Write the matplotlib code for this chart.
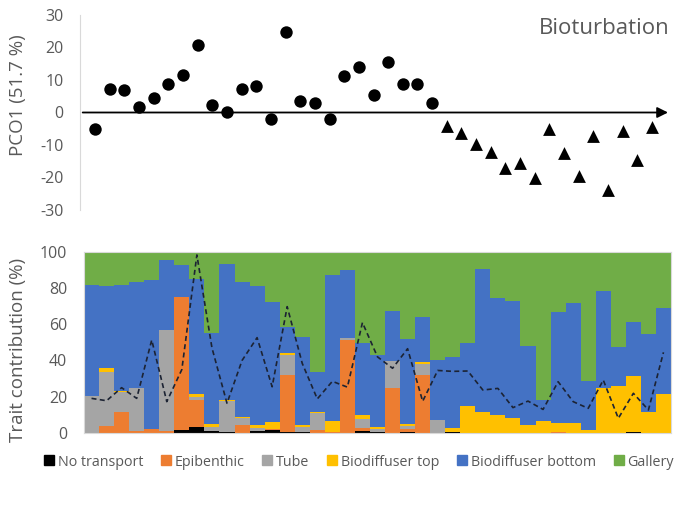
import matplotlib
matplotlib.use("Agg")
import matplotlib.pyplot as plt
import numpy as np

plt.rcParams['font.family'] = ['Open Sans', 'DejaVu Sans']
plt.rcParams['axes.unicode_minus'] = False

# ---- Top panel data: PCO1 scores ----
pco1_circles = [-5.1, 7.2, 6.9, 1.7, 4.5, 8.7, 11.6, 20.8, 2.4, 0.0, 7.2, 8.0,
                -2.1, 24.7, 3.4, 3.0, -2.1, 11.3, 14.1, 5.4, 15.5, 8.7, 8.9, 2.9]
pco1_triangles = [-4.3, -6.2, -9.6, -12.2, -17.1, -15.4, -20.2, -5.0, -12.5,
                  -19.6, -7.2, -23.8, -5.6, -14.6, -4.6]

# ---- Bottom panel data: trait contributions (%) per sample ----
no_transport = [0, 0, 0, 0, 0, 0, 1.7, 3.5, 1.1, 0.6, 0, 1.1, 1.5, 0.5, 0.7, 0, 0, 0, 0.9,
                0.6, 0, 0.5, 0, 0, 0.4, 0, 0, 0, 0, 0, 0, 0, 0, 0, 0, 0, 0.8, 0, 0]
epibenthic = [0, 3.9, 11.8, 1.3, 2.2, 1.3, 73.5, 14.7, 0, 0, 4.2, 0, 0.5, 31.5, 0, 1.7, 0.7,
              51.3, 1.6, 0, 24.7, 1.7, 32.0, 0, 0, 0, 0, 0, 0, 0, 0, 0.6, 0, 0, 0, 0, 0, 0, 0]
tube = [20.6, 29.9, 11.0, 23.7, 0, 55.5, 0, 1.8, 2.4, 17.0, 3.9, 1.5, 0, 11.0, 2.5, 9.2, 0,
        1.1, 5.4, 1.4, 15.0, 1.4, 6.3, 7.2, 0, 0, 0, 0, 0, 0, 0, 0, 0, 0, 0, 0, 0, 0, 0]
biodiff_top = [0, 2.2, 0.5, 0, 0, 0, 0, 1.5, 1.5, 0.6, 0.7, 2.0, 3.8, 1.0, 1.3, 0.6, 6.0,
               0, 1.8, 1.1, 0, 1.6, 0.8, 0, 2.3, 14.9, 11.8, 9.7, 8.3, 4.2, 6.8, 5.1,
               5.7, 1.6, 25.0, 26.1, 30.4, 11.4, 21.3]
biodiff_bottom = [61.0, 44.9, 58.5, 58.3, 82.2, 38.6, 17.4, 63.2, 50.3, 75.0, 74.3, 76.4,
                  66.2, 14.7, 48.5, 22.4, 80.3, 37.3, 39.7, 39.7, 27.6, 46.8, 25.1, 33.1,
                  39.4, 34.5, 78.6, 64.6, 64.5, 43.8, 11.4, 61.2, 65.8, 27.3, 53.5, 21.5,
                  29.8, 43.0, 47.5]
gallery = [18.4, 19.1, 18.2, 16.7, 15.6, 4.6, 7.4, 15.3, 44.7, 6.8, 16.9, 19.0, 28.0, 41.3,
           47.0, 66.1, 13.0, 10.3, 50.6, 57.2, 32.7, 48.0, 35.8, 59.7, 57.9, 50.6, 9.6,
           25.7, 27.2, 52.0, 81.8, 33.1, 28.5, 71.1, 21.5, 52.4, 39.0, 45.6, 31.2]
bioturbation_line = [19.1, 17.8, 25.0, 19.1, 51.3, 17.3, 35.0, 98.2, 47.0, 16.4, 40.0,
                     52.6, 25.5, 69.7, 38.4, 18.8, 28.5, 25.3, 60.9, 42.0, 35.7, 46.5,
                     17.5, 34.5, 34.0, 34.2, 23.7, 24.6, 14.0, 17.6, 13.0, 28.3, 17.3,
                     13.6, 29.2, 8.1, 21.9, 12.7, 44.5]

categories = ["No transport", "Epibenthic", "Tube", "Biodiffuser top",
              "Biodiffuser bottom", "Gallery"]
colors = ["#000000", "#ED7D31", "#A5A5A5", "#FFC000", "#4472C4", "#70AD47"]
series = [no_transport, epibenthic, tube, biodiff_top, biodiff_bottom, gallery]

grey_txt = "#595959"
W, H = 691, 505
fig = plt.figure(figsize=(W / 100, H / 100), dpi=100)

# ---------------- Top panel ----------------
n_c = len(pco1_circles)
n_t = len(pco1_triangles)
xc = np.arange(n_c)
xt = np.arange(n_c, n_c + n_t)
ax1 = fig.add_axes([80 / W, 1 - 210 / H, (668 - 80) / W, 195 / H])
ax1.scatter(xc, pco1_circles, s=80, marker='o', color='black', zorder=3, linewidths=0)
ax1.scatter(xt, pco1_triangles, s=85, marker='^', color='black', zorder=3, linewidths=0)
ax1.set_xlim(-1.023, 39.09)
ax1.set_ylim(-30, 30)
ax1.set_yticks([-30, -20, -10, 0, 10, 20, 30])
ax1.set_xticks([])
for s in ['top', 'right', 'bottom']:
    ax1.spines[s].set_visible(False)
ax1.spines['left'].set_color('#d9d9d9')
ax1.tick_params(axis='y', length=0, pad=12, labelsize=11.5, labelcolor=grey_txt)
ax1.annotate('', xy=(39.09, 0), xytext=(-0.84, 0),
             arrowprops=dict(arrowstyle='-|>', color='black', lw=1.3,
                             mutation_scale=16, shrinkA=0, shrinkB=0))
fig.text(670 / W, 1 - 29 / H, "Bioturbation", ha='right', va='center',
         fontsize=16, color=grey_txt)
fig.text(18 / W, 1 - 95 / H, "PCO1 (51.7 %)", rotation=90, ha='center', va='center',
         fontsize=13.5, color=grey_txt)

# ---------------- Bottom panel ----------------
ax2 = fig.add_axes([84 / W, 1 - 433 / H, (671 - 84) / W, (433 - 251.7) / H])
xb = np.arange(len(gallery))
bottom = np.zeros(len(gallery))
for vals, col, lab in zip(series, colors, categories):
    vals = np.asarray(vals, dtype=float)
    ax2.bar(xb, vals, bottom=bottom, width=1.0, color=col, linewidth=0, label=lab,
            zorder=2)
    bottom += vals
ax2.plot(xb, bioturbation_line, color='#1c2333', lw=1.2, ls=(0, (3, 2)), zorder=4)
ax2.set_xlim(-0.5, len(gallery) - 0.5)
ax2.set_ylim(0, 100)
ax2.set_yticks([0, 20, 40, 60, 80, 100])
ax2.set_xticks([])
for s in ax2.spines.values():
    s.set_color('#d9d9d9')
ax2.tick_params(axis='y', length=0, pad=12, labelsize=11.5, labelcolor=grey_txt)
fig.text(18 / W, 1 - 350 / H, "Trait contribution (%)", rotation=90, ha='center',
         va='center', fontsize=13.5, color=grey_txt)

handles = [plt.Line2D([], [], marker='s', linestyle='', color=c, markersize=7)
           for c in colors]
fig.legend(handles, categories, loc='center', bbox_to_anchor=(358 / W, 1 - 462 / H),
           ncol=6, frameon=False, fontsize=10.3, handletextpad=0.1,
           columnspacing=1.1, handlelength=1.0, labelcolor=grey_txt)

fig.savefig("out.png", dpi=100)
